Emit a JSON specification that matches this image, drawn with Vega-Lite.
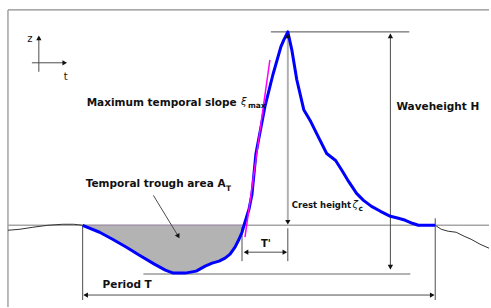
{
 "$schema": "https://vega.github.io/schema/vega-lite/v6.json",
 "width": 491, "height": 308, "padding": 0,
 "autosize": {"type": "fit", "contains": "padding"},
 "background": "white",
 "config": {"view": {"stroke": null}},
 "datasets": {
  "wave": [
   {"x":83,"y":226},{"x":100,"y":233},{"x":113,"y":240},{"x":127,"y":248},{"x":140,"y":256},{"x":155,"y":265},{"x":166,"y":271},{"x":174,"y":274},{"x":186,"y":274},{"x":197,"y":272},{"x":206,"y":267},{"x":213,"y":264},{"x":220,"y":262},{"x":226,"y":259},{"x":231,"y":255},{"x":236,"y":248},{"x":240,"y":240},{"x":243,"y":233},{"x":245,"y":226},{"x":250,"y":210},{"x":253,"y":195},{"x":257,"y":154},{"x":266,"y":107},{"x":274,"y":75},{"x":282,"y":47},{"x":285,"y":40},{"x":289,"y":32},{"x":293,"y":50},{"x":298,"y":80},{"x":305,"y":110},{"x":312,"y":122},{"x":320,"y":138},{"x":328,"y":154},{"x":337,"y":161},{"x":344,"y":172},{"x":350,"y":182},{"x":358,"y":194},{"x":365,"y":201},{"x":373,"y":207},{"x":382,"y":212},{"x":392,"y":217},{"x":400,"y":219},{"x":407,"y":221},{"x":414,"y":224},{"x":420,"y":226},{"x":437,"y":226}
  ],
  "trough": [
   {"x":83,"y":226,"y2":226},{"x":100,"y":233,"y2":226},{"x":113,"y":240,"y2":226},{"x":127,"y":248,"y2":226},{"x":140,"y":256,"y2":226},{"x":155,"y":265,"y2":226},{"x":166,"y":271,"y2":226},{"x":174,"y":274,"y2":226},{"x":186,"y":274,"y2":226},{"x":197,"y":272,"y2":226},{"x":206,"y":267,"y2":226},{"x":213,"y":264,"y2":226},{"x":220,"y":262,"y2":226},{"x":226,"y":259,"y2":226},{"x":231,"y":255,"y2":226},{"x":236,"y":248,"y2":226},{"x":240,"y":240,"y2":226},{"x":243,"y":233,"y2":226},{"x":245,"y":226,"y2":226}
  ],
  "leftsurf": [
   {"x":8,"y":231},{"x":20,"y":230},{"x":33,"y":228},{"x":48,"y":226},{"x":63,"y":225},{"x":74,"y":225},{"x":83,"y":226}
  ],
  "rightsurf": [
   {"x":437,"y":226},{"x":443,"y":230},{"x":450,"y":232},{"x":458,"y":233},{"x":466,"y":237},{"x":473,"y":240},{"x":482,"y":245},{"x":491,"y":249}
  ],
  "tangent": [{"x":246,"y":238},{"x":271,"y":60}],
  "frame": [
   {"x":8,"y":10,"x2":8,"y2":308},
   {"x":8,"y":10,"x2":491,"y2":10}
  ],
  "meanline": [{"x":8,"y":226,"x2":491,"y2":226}],
  "troughtop": [{"x":83,"y":226,"x2":245,"y2":226}],
  "darklines": [
   {"x":39,"y":38,"x2":39,"y2":72},
   {"x":32,"y":63,"x2":65,"y2":63},
   {"x":272,"y":32,"x2":411,"y2":32},
   {"x":392,"y":34,"x2":392,"y2":270},
   {"x":85,"y":296,"x2":435,"y2":296},
   {"x":83,"y":226,"x2":83,"y2":301},
   {"x":437,"y":219,"x2":437,"y2":301},
   {"x":243,"y":228,"x2":243,"y2":262},
   {"x":289,"y":229,"x2":289,"y2":262},
   {"x":246,"y":253,"x2":287,"y2":253},
   {"x":154,"y":196,"x2":179,"y2":237}
  ],
  "greylines": [
   {"x":144,"y":275,"x2":412,"y2":275}
  ],
  "crestline": [{"x":289,"y":34,"x2":289,"y2":222}],
  "heads": [
   {"x":39,"y":38,"dir":"up"},
   {"x":65,"y":63,"dir":"right"},
   {"x":289,"y":223,"dir":"down"},
   {"x":289,"y":36,"dir":"up"},
   {"x":392,"y":36,"dir":"up"},
   {"x":392,"y":268,"dir":"down"},
   {"x":86,"y":296,"dir":"left"},
   {"x":434,"y":296,"dir":"right"},
   {"x":247,"y":253,"dir":"left"},
   {"x":286,"y":253,"dir":"right"}
  ],
  "annohead": [{"x":179,"y":237}],
  "labels": [
   {"x":87,"y":103,"text":"Maximum temporal slope"},
   {"x":86,"y":185,"text":"Temporal trough area A"}
  ],
  "biglabels": [
   {"x":398,"y":107,"text":"Waveheight H"},
   {"x":103,"y":286,"text":"Period T"}
  ],
  "smalllabels": [
   {"x":293,"y":206,"text":"Crest height"}
  ],
  "tprime": [{"x":267,"y":245,"text":"T'"}],
  "axislabels": [
   {"x":30,"y":39,"text":"z"},
   {"x":66,"y":77,"text":"t"}
  ],
  "greek": [
   {"x":242,"y":102,"text":"ξ"},
   {"x":354,"y":206,"text":"ζ"}
  ],
  "subs": [
   {"x":249,"y":106,"text":"max"},
   {"x":227,"y":190,"text":"T"},
   {"x":360,"y":210,"text":"c"}
  ]
 },
 "encoding": {
  "x": {"field": "x", "type": "quantitative", "scale": {"domain": [0, 491], "nice": false, "zero": false}, "axis": null},
  "y": {"field": "y", "type": "quantitative", "scale": {"domain": [0, 308], "nice": false, "zero": false, "reverse": true}, "axis": null}
 },
 "layer": [
  {"data": {"name": "frame"}, "mark": {"type": "rule", "color": "#8c8c8c", "strokeWidth": 1.2}, "encoding": {"x2": {"field": "x2"}, "y2": {"field": "y2"}}},
  {"data": {"name": "trough"}, "mark": {"type": "area", "color": "#b3b3b3", "opacity": 1}, "encoding": {"y2": {"field": "y2"}}},
  {"data": {"name": "meanline"}, "mark": {"type": "rule", "color": "#a6a6a6", "strokeWidth": 1.5}, "encoding": {"x2": {"field": "x2"}, "y2": {"field": "y2"}}},
  {"data": {"name": "troughtop"}, "mark": {"type": "rule", "color": "#a58fb0", "strokeWidth": 1.2}, "encoding": {"x2": {"field": "x2"}, "y2": {"field": "y2"}}},
  {"data": {"name": "leftsurf"}, "mark": {"type": "line", "color": "#333333", "strokeWidth": 1}, "encoding": {}},
  {"data": {"name": "rightsurf"}, "mark": {"type": "line", "color": "#333333", "strokeWidth": 1}, "encoding": {}},
  {"data": {"name": "greylines"}, "mark": {"type": "rule", "color": "#9a9a9a", "strokeWidth": 1.5}, "encoding": {"x2": {"field": "x2"}, "y2": {"field": "y2"}}},
  {"data": {"name": "crestline"}, "mark": {"type": "rule", "color": "#b0b0b0", "strokeWidth": 2}, "encoding": {"x2": {"field": "x2"}, "y2": {"field": "y2"}}},
  {"data": {"name": "darklines"}, "mark": {"type": "rule", "color": "#4d4d4d", "strokeWidth": 1}, "encoding": {"x2": {"field": "x2"}, "y2": {"field": "y2"}}},
  {"data": {"name": "wave"}, "mark": {"type": "line", "color": "#0000ff", "strokeWidth": 3, "strokeJoin": "round"}, "encoding": {}},
  {"data": {"name": "tangent"}, "mark": {"type": "line", "color": "#ff00ff", "strokeWidth": 1.5}, "encoding": {}},
  {"data": {"name": "heads"}, "mark": {"type": "point", "filled": true, "color": "#111111", "size": 28, "opacity": 1},
   "encoding": {"shape": {"field": "dir", "type": "nominal", "scale": {"domain": ["up", "down", "left", "right"], "range": ["triangle-up", "triangle-down", "triangle-left", "triangle-right"]}, "legend": null}}},
  {"data": {"name": "annohead"}, "mark": {"type": "point", "filled": true, "color": "#111111", "size": 28, "opacity": 1, "shape": "triangle-down", "angle": -30}},
  {"data": {"name": "labels"}, "mark": {"type": "text", "align": "left", "baseline": "middle", "font": "DejaVu Sans", "fontWeight": "bold", "fontSize": 10.5, "color": "#111111"}, "encoding": {"text": {"field": "text"}}},
  {"data": {"name": "biglabels"}, "mark": {"type": "text", "align": "left", "baseline": "middle", "font": "DejaVu Sans", "fontWeight": "bold", "fontSize": 10.5, "color": "#111111"}, "encoding": {"text": {"field": "text"}}},
  {"data": {"name": "smalllabels"}, "mark": {"type": "text", "align": "left", "baseline": "middle", "font": "DejaVu Sans", "fontWeight": "bold", "fontSize": 8.5, "color": "#111111"}, "encoding": {"text": {"field": "text"}}},
  {"data": {"name": "tprime"}, "mark": {"type": "text", "align": "center", "baseline": "middle", "font": "DejaVu Sans", "fontWeight": "bold", "fontSize": 10, "color": "#111111"}, "encoding": {"text": {"field": "text"}}},
  {"data": {"name": "axislabels"}, "mark": {"type": "text", "align": "center", "baseline": "middle", "font": "DejaVu Sans", "fontSize": 10, "color": "#111111"}, "encoding": {"text": {"field": "text"}}},
  {"data": {"name": "greek"}, "mark": {"type": "text", "align": "left", "baseline": "middle", "font": "DejaVu Sans", "fontStyle": "italic", "fontSize": 10, "color": "#111111"}, "encoding": {"text": {"field": "text"}}},
  {"data": {"name": "subs"}, "mark": {"type": "text", "align": "left", "baseline": "middle", "font": "DejaVu Sans", "fontWeight": "bold", "fontSize": 7.5, "color": "#111111"}, "encoding": {"text": {"field": "text"}}}
 ]
}
